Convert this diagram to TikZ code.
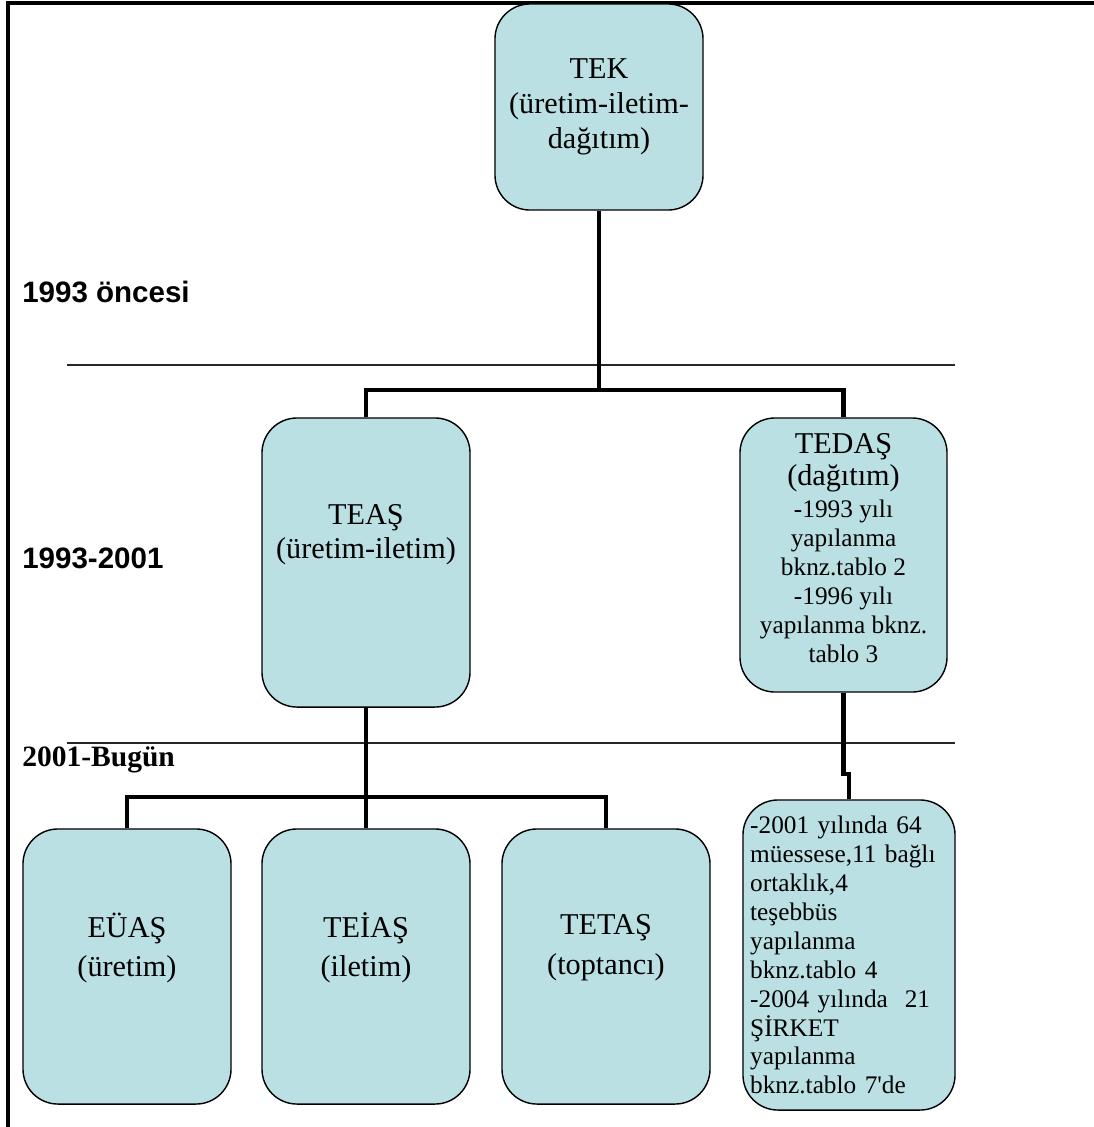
\documentclass[tikz,border=0pt]{standalone}
\usepackage{fontspec}
\setmainfont{Liberation Serif}
\setsansfont{Liberation Sans}
\newcommand{\buyuk}{\fontsize{21.5}{25}\selectfont}
\newcommand{\kucuk}{\fontsize{18}{20.6}\selectfont}
\begin{document}
\begin{tikzpicture}[x=0.025cm,y=-0.025cm,
  kutu/.style={draw=black,line width=1pt,fill={rgb,255:red,187;green,224;blue,227},rounded corners=0.875cm,minimum width=5.2cm,align=center,font=\buyuk,inner sep=0.15cm},
  baglanti/.style={draw,line width=3.2pt},
  ayrac/.style={draw,line width=0.8pt,black!85},
  donem/.style={anchor=west,inner sep=0pt,font=\fontsize{21}{25}\selectfont\bfseries}]
\useasboundingbox (0,0) rectangle (1094,1127);
\path[draw,line width=2.2pt] (8,1127) -- (8,3) -- (1094,3);
\path[ayrac] (67,365) -- (955,365);
\path[ayrac] (67,743) -- (955,743);
\node[donem,font=\sffamily\fontsize{21}{25}\selectfont\bfseries] (d1) at (22,292) {1993 öncesi};
\node[donem,font=\sffamily\fontsize{21}{25}\selectfont\bfseries] (d2) at (22,558) {1993-2001};
\node[donem] (d3) at (22,760) {2001-Bugün};
\node[kutu,minimum height=5.15cm] (tek) at (599,107) {TEK\\(üretim-iletim-\\dağıtım)};
\node[kutu,minimum height=7.225cm,text depth=1.55cm] (teas) at (366,562.5) {TEAŞ\\[-1pt](üretim-iletim)};
\node[kutu,minimum width=5.175cm,minimum height=6.85cm,font=\kucuk,text depth=0.35cm] (tedas) at (843.5,555) {{\buyuk TEDAŞ}\\[2pt]{\buyuk (dağıtım)}\\[2pt]-1993 yılı\\yapılanma\\bknz.tablo 2\\-1996 yılı\\yapılanma bknz.\\tablo 3};
\node[kutu,minimum height=6.875cm,text depth=1.1cm] (euas) at (127,966.5) {EÜAŞ\\[3pt](üretim)};
\node[kutu,minimum height=6.875cm,text depth=1.1cm] (teias) at (366,966.5) {TEİAŞ\\[3pt](iletim)};
\node[kutu,minimum height=6.875cm,text depth=1.1cm] (tetas) at (606,966.5) {TETAŞ\\[3pt](toptancı)};
\node[kutu,minimum width=5.3cm,minimum height=7.75cm,text width=4.94cm,inner xsep=0.18cm,align=left,font=\kucuk] (sirket) at (849,955) {-2001 yılında 64\\müessese,11 bağlı\\ortaklık,4\\teşebbüs\\yapılanma\\bknz.tablo 4\\-2004 yılında\ \ 21\\ŞİRKET\\yapılanma\\bknz.tablo 7\textquotesingle de};
\coordinate (catal1) at (599,390);
\coordinate (catal2) at (366,797);
\coordinate (kirik) at (849,774);
\path[baglanti] (tek.south) -- (catal1);
\path[baglanti] (teas.north) |- (catal1) -| (tedas.north);
\path[baglanti] (teas.south) -- (catal2);
\path[baglanti] (euas.north) |- (catal2) -| (tetas.north);
\path[baglanti] (teias.north) -- (catal2);
\path[baglanti] (tedas.south) |- (kirik) -- (sirket.north);
\end{tikzpicture}
\end{document}
